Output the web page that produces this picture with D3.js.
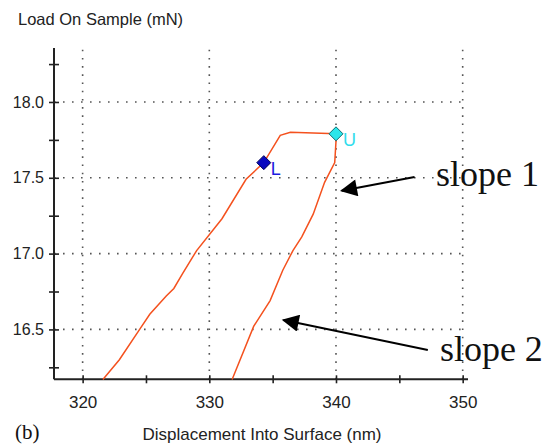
<!DOCTYPE html>
<meta charset="utf-8">
<script src="https://d3js.org/d3.v7.min.js"></script>
<style>
  body { margin: 0; background: #fff; }
</style>
<div id="chart"></div>
<script>

// loading branch (displacement nm, load mN)
var loadX = [321.6, 322.9, 324.5, 325.3, 326.6, 327.2, 327.9, 329.0, 331.0, 332.9, 334.3, 335.6, 336.4, 340.0];
var loadY = [16.17, 16.30, 16.50, 16.60, 16.72, 16.77, 16.87, 17.02, 17.23, 17.49, 17.60, 17.78, 17.80, 17.79];
// unloading branch
var unloadX = [340.0, 340.0, 339.9, 339.1, 338.2, 337.3, 336.6, 335.8, 334.8, 333.5, 331.8];
var unloadY = [17.79, 17.74, 17.60, 17.47, 17.26, 17.11, 17.02, 16.89, 16.69, 16.52, 16.17];

var markerNames = ["L", "U"];
var markerX = [334.3, 340.0];
var markerY = [17.60, 17.79];

var xTicks = [320, 330, 340, 350];
var xMinor = [325, 335, 345];
var yTicks = [16.5, 17.0, 17.5, 18.0];
var yMinor = [16.25, 16.75, 17.25, 17.75, 18.25];

// annotations: [tailX, tailY, tipX, tipY]
var slopeNames = ["slope 1", "slope 2"];
var slopeArrows = [[346.2, 17.505, 340.45, 17.415], [347.25, 16.364, 335.85, 16.562]];
var slopeTextPos = [[347.9, 17.446], [348.2, 16.29]];

var SANS = "'Liberation Sans', Arial, sans-serif";
var SERIF = "'Liberation Serif', 'Times New Roman', serif";

var W = 559, H = 448;
var svg = d3.select("#chart").append("svg")
  .attr("width", W).attr("height", H);

svg.append("rect").attr("width", W).attr("height", H).attr("fill", "#fff");

var x = d3.scaleLinear().domain([317.74, 350.42]).range([54, 468]);
var y = d3.scaleLinear().domain([16.171, 18.356]).range([379.3, 48]);

// grid
svg.append("g").selectAll("line").data(xTicks).enter().append("line")
  .attr("x1", function(d) { return x(d); }).attr("x2", function(d) { return x(d); })
  .attr("y1", y.range()[0]).attr("y2", y.range()[1])
  .attr("stroke", "#555").attr("stroke-width", 1.6)
  .attr("stroke-dasharray", "1.6,6.6");
svg.append("g").selectAll("line").data(yTicks).enter().append("line")
  .attr("y1", function(d) { return y(d); }).attr("y2", function(d) { return y(d); })
  .attr("x1", x.range()[0]).attr("x2", x.range()[1])
  .attr("stroke", "#555").attr("stroke-width", 1.6)
  .attr("stroke-dasharray", "1.6,7.4");

// axes
var yAxis = d3.axisLeft(y).tickValues(yTicks).tickFormat(d3.format(".1f")).tickSize(5).tickPadding(5);
var yAxisMinor = d3.axisLeft(y).tickValues(yMinor).tickFormat("").tickSize(5);
var xAxis = d3.axisBottom(x).tickValues(xTicks).tickFormat(d3.format("d")).tickSize(4).tickPadding(13);
var xAxisMinor = d3.axisBottom(x).tickValues(xMinor).tickFormat("").tickSize(4);

function styleAxis(size) {
  return function(g) {
    g.select(".domain").remove();
    g.selectAll(".tick line").attr("stroke", "#222").attr("stroke-width", 1.6)
      .attr("x1", function() { var v = +d3.select(this).attr("x2"); return v ? -v : 0; })
      .attr("y1", function() { var v = +d3.select(this).attr("y2"); return v ? -v : 0; });
    g.selectAll(".tick text").style("font-family", SANS)
      .attr("font-size", size).attr("fill", "#222");
  };
}

svg.append("g").attr("transform", "translate(" + x.range()[0] + ",0)").call(yAxis).call(styleAxis(16));
svg.append("g").attr("transform", "translate(" + x.range()[0] + ",0)").call(yAxisMinor).call(styleAxis(16));
svg.append("g").attr("transform", "translate(0," + y.range()[0] + ")").call(xAxis).call(styleAxis(17));
svg.append("g").attr("transform", "translate(0," + y.range()[0] + ")").call(xAxisMinor).call(styleAxis(17));

// axis lines
svg.append("line").attr("x1", x.range()[0]).attr("x2", x.range()[0])
  .attr("y1", y.range()[1]).attr("y2", y.range()[0])
  .attr("stroke", "#222").attr("stroke-width", 2);
svg.append("line").attr("x1", x.range()[0]).attr("x2", x.range()[1])
  .attr("y1", y.range()[0]).attr("y2", y.range()[0])
  .attr("stroke", "#222").attr("stroke-width", 2);

// curves
var line = d3.line().x(function(d) { return x(d[0]); }).y(function(d) { return y(d[1]); });
var loading = d3.zip(loadX, loadY);
var unloading = d3.zip(unloadX, unloadY);
[loading, unloading].forEach(function(pts) {
  svg.append("path").datum(pts).attr("d", line)
    .attr("fill", "none").attr("stroke", "#f4511e").attr("stroke-width", 1.5);
});

// markers
var markerFill = ["#0808c0", "#2ae6ea"];
var markerStroke = ["#000055", "#0b6f73"];
var markerText = ["#1c1ce0", "#30dcec"];
markerNames.forEach(function(n, i) {
  var cx = x(markerX[i]), cy = y(markerY[i]);
  svg.append("path")
    .attr("d", d3.symbol().type(d3.symbolDiamond2).size(125)())
    .attr("transform", "translate(" + cx + "," + cy + ")")
    .attr("fill", markerFill[i]).attr("stroke", markerStroke[i]).attr("stroke-width", 1);
  svg.append("text").attr("x", cx + 7).attr("y", cy + 12)
    .style("font-family", SANS)
    .attr("font-size", 18).attr("fill", markerText[i]).text(n);
});

// arrows
svg.append("defs").append("marker")
  .attr("id", "head").attr("viewBox", "0 0 10 10")
  .attr("refX", 9).attr("refY", 5)
  .attr("markerWidth", 20).attr("markerHeight", 17)
  .attr("markerUnits", "userSpaceOnUse")
  .attr("orient", "auto")
  .append("path").attr("d", "M0,0 L10,5 L0,10 Z").attr("fill", "#000");

slopeArrows.forEach(function(a, i) {
  svg.append("line")
    .attr("x1", x(a[0])).attr("y1", y(a[1]))
    .attr("x2", x(a[2])).attr("y2", y(a[3]))
    .attr("stroke", "#000").attr("stroke-width", 2)
    .attr("marker-end", "url(#head)");
  svg.append("text")
    .attr("x", x(slopeTextPos[i][0])).attr("y", y(slopeTextPos[i][1]))
    .style("font-family", SERIF)
    .attr("font-size", 36).attr("fill", "#111").text(slopeNames[i]);
});

// titles
svg.append("text").attr("x", 18).attr("y", 24.5)
  .style("font-family", SANS).attr("font-size", 16.5).attr("fill", "#222")
  .text("Load On Sample (mN)");
svg.append("text").attr("x", 262).attr("y", 440).attr("text-anchor", "middle")
  .style("font-family", SANS).attr("font-size", 17).attr("fill", "#222")
  .text("Displacement Into Surface (nm)");
svg.append("text").attr("x", 15).attr("y", 439)
  .style("font-family", SERIF)
  .attr("font-size", 21).attr("fill", "#111").text("(b)");

</script>
